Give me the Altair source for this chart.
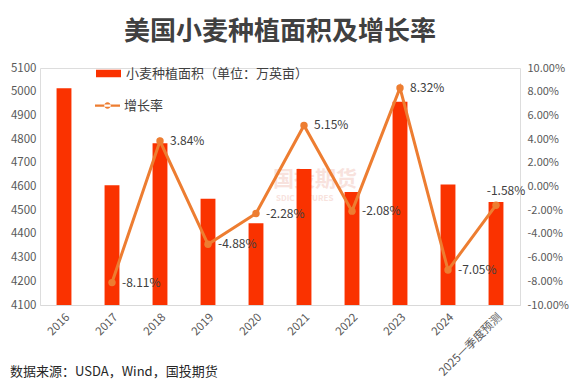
import altair as alt
import pandas as pd

categories = ["2016", "2017", "2018", "2019", "2020", "2021", "2022", "2023", "2024", "2025一季度预测"]
area = [5015, 4605, 4782, 4548, 4445, 4674, 4577, 4958, 4608, 4535]
growth = [None, -8.11, 3.84, -4.88, -2.28, 5.15, -2.08, 8.32, -7.05, -1.58]
left_ticks = list(range(4100, 5101, 100))
right_ticks = list(range(-10, 11, 2))

bar_name = "小麦种植面积（单位：万英亩）"
line_name = "增长率"

bar_df = pd.DataFrame({"cat": categories, "area": area, "s": bar_name})
line_df = pd.DataFrame({"cat": categories, "growth": growth, "s": line_name}).dropna()
line_df["label"] = [f"{v:.2f}%" for v in line_df["growth"]]

RED = "#FA3200"
ORANGE = "#ED7D31"
FONT = "Noto Sans CJK SC"

x_enc = alt.X("cat:N", sort=categories, title=None,
              scale=alt.Scale(paddingInner=0.69, paddingOuter=0.345),
              axis=alt.Axis(labelAngle=-45, ticks=False, domainColor="#D9D9D9",
                            labelColor="#595959", labelFontSize=11.5, labelPadding=6,
                            labelFont=FONT, labelLimit=200))

bars = alt.Chart(bar_df).mark_bar(color=RED).encode(
    x=x_enc,
    y=alt.Y("area:Q", title=None,
            scale=alt.Scale(domain=[4100, 5100], zero=False, nice=False),
            axis=alt.Axis(values=left_ticks, grid=False, domain=False, ticks=False, format="d",
                          labelColor="#595959", labelFontSize=11.5, labelPadding=4,
                          labelFont=FONT)),
    y2=alt.datum(4100),
    color=alt.Color("s:N", scale=alt.Scale(range=[RED]),
                    legend=alt.Legend(title=None, orient="none", legendX=55, legendY=-8,
                                      symbolType="M-1,-0.3L1,-0.3L1,0.3L-1,0.3Z",
                                      symbolSize=625, labelFontSize=13, labelLimit=400,
                                      labelColor="#404040", labelFont=FONT, labelOffset=4)),
)

y_right = alt.Y("growth:Q", title=None,
                scale=alt.Scale(domain=[-10, 10], nice=False, zero=False),
                axis=alt.Axis(orient="right", values=right_ticks, grid=False, domain=False,
                              ticks=False, labelColor="#595959", labelFontSize=11,
                              labelPadding=7, labelFont=FONT,
                              labelExpr="replace(format(datum.value, '.2f'), '\u2212', '-') + '%'"))

line = alt.Chart(line_df).mark_line(strokeWidth=3, color=ORANGE).encode(
    x=alt.X("cat:N", sort=categories),
    y=y_right,
    stroke=alt.Stroke("s:N", scale=alt.Scale(range=[ORANGE]),
                      legend=alt.Legend(title=None, orient="none", legendX=55, legendY=25,
                                        symbolType="M-1,-0.09L1,-0.09L1,0.09L-1,0.09Z M-0.26,0A0.26,0.26 0 1,0 0.26,0A0.26,0.26 0 1,0 -0.26,0Z",
                                        symbolSize=625, symbolFillColor=ORANGE,
                                        symbolStrokeWidth=0, labelFontSize=13,
                                        labelColor="#404040", labelFont=FONT, labelOffset=4)),
)

points = alt.Chart(line_df).mark_circle(size=55, color=ORANGE, opacity=1).encode(
    x=alt.X("cat:N", sort=categories),
    y=alt.Y("growth:Q", scale=alt.Scale(domain=[-10, 10], nice=False, zero=False), axis=None),
)

labels = alt.Chart(line_df).transform_filter(
    alt.datum.cat != categories[-1]
).mark_text(align="left", baseline="middle", dx=10, fontSize=12, color="#404040", font=FONT).encode(
    x=alt.X("cat:N", sort=categories),
    y=alt.Y("growth:Q", scale=alt.Scale(domain=[-10, 10], nice=False, zero=False), axis=None),
    text="label:N",
)

last_label = alt.Chart(line_df).transform_filter(
    alt.datum.cat == categories[-1]
).mark_text(align="center", baseline="middle", dx=10, dy=-14, fontSize=12, color="#404040", font=FONT).encode(
    x=alt.X("cat:N", sort=categories),
    y=alt.Y("growth:Q", scale=alt.Scale(domain=[-10, 10], nice=False, zero=False), axis=None),
    text="label:N",
)

source = alt.Chart(pd.DataFrame({"t": ["数据来源：USDA，Wind，国投期货"]})).mark_text(
    align="left", baseline="middle", fontSize=13, color="#262626", font=FONT
).encode(x=alt.value(-30), y=alt.value(304), text="t:N")

watermark = alt.Chart(pd.DataFrame({"t": ["国投期货"]})).mark_text(
    align="left", baseline="middle", fontSize=21, fontWeight="bold", color="#F4CFC8", opacity=0.6, font=FONT
).encode(x=alt.value(233), y=alt.value(112), text="t:N")

watermark2 = alt.Chart(pd.DataFrame({"t": ["SDIC FUTURES"]})).mark_text(
    align="left", baseline="middle", fontSize=8, fontWeight="bold", color="#F4CFC8", opacity=0.6, font=FONT
).encode(x=alt.value(236), y=alt.value(131), text="t:N")

chart = alt.layer(
    watermark, watermark2, bars, line, points, labels, last_label, source
).resolve_scale(
    y="independent", color="independent"
).properties(
    width=480, height=237,
    autosize=alt.AutoSizeParams(type="none"),
    padding={"left": 32, "top": 60, "right": 51, "bottom": 74},
    title=alt.TitleParams("美国小麦种植面积及增长率", fontSize=26, fontWeight="bold",
                          anchor="middle", color="#404040", font=FONT, frame="group",
                          offset=15),
).configure_view(stroke=None).configure(background="white")

chart.save("out.html", embed_options={"renderer": "svg", "actions": False})
